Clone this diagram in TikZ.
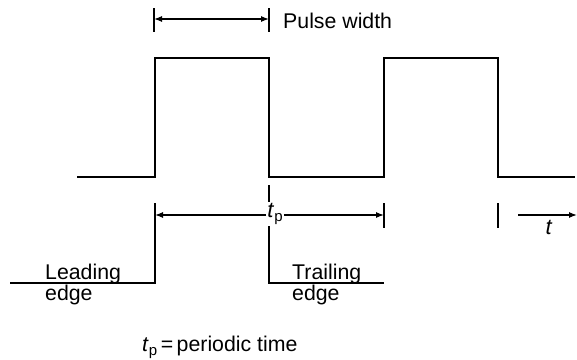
\documentclass[tikz,border=0pt]{standalone}
\usepackage{fontspec}
\setmainfont{Liberation Sans}
\usetikzlibrary{arrows.meta}
\newcommand{\tpsym}{\textit{t}{\fontsize{15}{15}\selectfont\raisebox{-4pt}{p}}}
\tikzset{
  wave/.style={line width=1.5pt, line join=miter},
  tickline/.style={line width=1.4pt},
  dimline/.style={line width=1.2pt, -{Latex[length=8pt,width=6pt]}},
  lbl/.style={font=\fontsize{21.3}{23}\selectfont, inner sep=0pt, anchor=base west},
}
\begin{document}
\begin{tikzpicture}[x=1pt,y=-1pt]
\useasboundingbox (0,0) rectangle (577,359);
% upper waveform corners
\coordinate (w0) at (77,177);
\coordinate (w1) at (155,177);
\coordinate (w2) at (155,58);
\coordinate (w3) at (269,58);
\coordinate (w4) at (269,177);
\coordinate (w5) at (384,177);
\coordinate (w6) at (384,58);
\coordinate (w7) at (498,58);
\coordinate (w8) at (498,177);
\coordinate (w9) at (575,177);
\draw[wave] (w0) -- (w1) -- (w2) -- (w3) -- (w4) -- (w5) -- (w6) -- (w7) -- (w8) -- (w9);

% pulse width dimension
\coordinate (pa1) at (154,8);  \coordinate (pa2) at (154,32);
\coordinate (pb1) at (269,8);  \coordinate (pb2) at (269,32);
\draw[tickline] (pa1) -- (pa2);
\draw[tickline] (pb1) -- (pb2);
\coordinate (pm) at (211.5,19);
\coordinate (pl) at (154,19);
\coordinate (pr) at (269,19);
\draw[dimline] (pm) -- (pl);
\draw[dimline] (pm) -- (pr);
\node[lbl] (pw) at (283,28) {Pulse width};

% lower: leading edge
\coordinate (l0) at (10,283);
\coordinate (l1) at (155,283);
\coordinate (l2) at (155,203);
\draw[wave] (l0) -- (l1) -- (l2);
% trailing edge
\coordinate (r0) at (269,185);
\coordinate (r1) at (269,283);
\coordinate (r2) at (384,283);
\draw[wave] (r0) -- (r1) -- (r2);
% ticks
\coordinate (k1) at (384,203); \coordinate (k2) at (384,228);
\draw[tickline] (k1) -- (k2);
\coordinate (k3) at (498,203); \coordinate (k4) at (498,228);
\draw[tickline] (k3) -- (k4);

% periodic time dimension
\node[fill=white, inner sep=1pt, font=\fontsize{22}{24}\selectfont] (tp) at (275,214) {\tpsym};
\coordinate (tl) at (155,215);
\coordinate (tr) at (384,215);
\draw[dimline] (tp.west |- tl) -- (tl);
\draw[dimline] (tp.east |- tr) -- (tr);

% time axis
\coordinate (ta) at (518,215);
\coordinate (tb) at (577,215);
\draw[dimline] (ta) -- (tb);
\node[font=\fontsize{22}{24}\selectfont, inner sep=0pt] (tt) at (549,227) {\textit{t}};

% labels
\node[lbl] (lead) at (45,279) {Leading};
\node[lbl] (ledge) at (45,300) {edge};
\node[lbl] (trail) at (292,279) {Trailing};
\node[lbl] (tedge) at (292,300) {edge};
\node[lbl] (def) at (142,351) {\tpsym\,=\,periodic time};
\end{tikzpicture}
\end{document}
